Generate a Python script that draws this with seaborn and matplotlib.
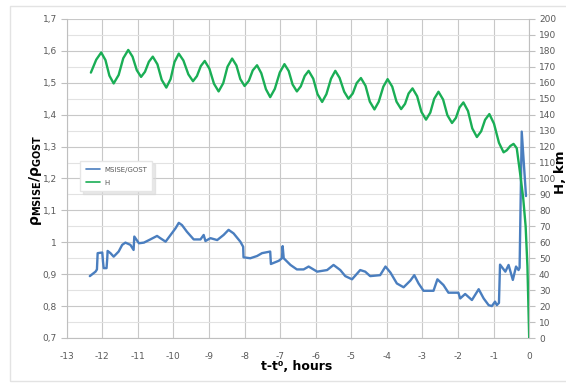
import numpy as np
import pandas as pd
import matplotlib
matplotlib.use("Agg")
import matplotlib.pyplot as plt
from matplotlib.lines import Line2D
from matplotlib.patches import Rectangle
import seaborn as sns

# ---------------- data ----------------
t_rho = [-12.35, -12.19, -12.15, -12.13, -12.00, -11.98, -11.96, -11.88, -11.86, -11.85,
         -11.77, -11.68, -11.54, -11.44, -11.35, -11.21, -11.12, -11.10, -10.97, -10.83,
         -10.65, -10.46, -10.37, -10.22, -10.08, -9.94, -9.85, -9.76, -9.62, -9.43,
         -9.24, -9.15, -9.10, -8.96, -8.77, -8.59, -8.45, -8.31, -8.12, -8.04,
         -8.03, -7.84, -7.65, -7.51, -7.28, -7.26, -7.04, -6.95, -6.93, -6.90,
         -6.71, -6.53, -6.34, -6.20, -5.96, -5.68, -5.50, -5.31, -5.17, -4.98,
         -4.75, -4.61, -4.47, -4.19, -4.04, -3.90, -3.72, -3.53, -3.34, -3.23,
         -3.11, -2.97, -2.69, -2.58, -2.41, -2.27, -1.99, -1.94, -1.80, -1.61,
         -1.42, -1.28, -1.14, -1.05, -0.96, -0.91, -0.85, -0.82, -0.67, -0.58,
         -0.46, -0.37, -0.30, -0.27, -0.21, -0.09]
rho_ratio = [0.894, 0.908, 0.915, 0.966, 0.968, 0.940, 0.919, 0.919, 0.950, 0.973,
             0.966, 0.955, 0.971, 0.992, 0.999, 0.992, 0.976, 1.018, 0.997, 0.999,
             1.009, 1.020, 1.013, 1.002, 1.023, 1.044, 1.061, 1.054, 1.033, 1.009,
             1.009, 1.023, 1.004, 1.013, 1.007, 1.023, 1.039, 1.028, 1.002, 0.986,
             0.953, 0.950, 0.957, 0.966, 0.971, 0.932, 0.942, 0.950, 0.988, 0.950,
             0.929, 0.915, 0.915, 0.924, 0.908, 0.913, 0.929, 0.913, 0.894, 0.884,
             0.913, 0.908, 0.894, 0.897, 0.924, 0.905, 0.871, 0.859, 0.880, 0.897,
             0.871, 0.848, 0.848, 0.884, 0.866, 0.842, 0.842, 0.824, 0.838, 0.819,
             0.853, 0.824, 0.803, 0.800, 0.814, 0.803, 0.810, 0.930, 0.908, 0.929,
             0.882, 0.924, 0.913, 0.920, 1.347, 1.145]

t_h = [-12.32, -12.17, -12.03, -11.91, -11.80, -11.68, -11.54, -11.41, -11.27, -11.15,
       -11.03, -10.91, -10.80, -10.69, -10.58, -10.45, -10.33, -10.20, -10.08, -9.97,
       -9.85, -9.72, -9.58, -9.45, -9.34, -9.23, -9.12, -8.99, -8.86, -8.73,
       -8.60, -8.48, -8.35, -8.23, -8.12, -8.00, -7.88, -7.77, -7.65, -7.53,
       -7.40, -7.28, -7.15, -7.01, -6.88, -6.76, -6.65, -6.53, -6.42, -6.31,
       -6.20, -6.07, -5.95, -5.82, -5.70, -5.57, -5.45, -5.33, -5.20, -5.08,
       -4.96, -4.85, -4.73, -4.60, -4.48, -4.35, -4.23, -4.10, -3.98, -3.85,
       -3.73, -3.60, -3.49, -3.39, -3.28, -3.15, -3.03, -2.90, -2.78, -2.67,
       -2.55, -2.42, -2.30, -2.17, -2.06, -1.96, -1.85, -1.72, -1.60, -1.47,
       -1.35, -1.24, -1.12, -0.99, -0.85, -0.72, -0.63, -0.53, -0.44, -0.35,
       -0.26, -0.17, -0.10, -0.05, 0.00]
h_km = [166.4, 174.5, 179.0, 174.2, 164.5, 159.6, 164.9, 175.4, 180.6, 176.4,
        167.9, 163.7, 166.9, 173.2, 176.4, 171.6, 161.9, 157.0, 162.3, 173.0,
        178.3, 174.0, 165.3, 161.0, 164.2, 170.5, 173.7, 168.9, 159.4, 154.6,
        159.8, 170.1, 175.2, 170.9, 162.3, 158.0, 161.3, 167.8, 171.0, 166.0,
        156.0, 151.0, 156.2, 166.5, 171.7, 167.4, 158.9, 154.6, 157.8, 164.3,
        167.5, 162.6, 152.9, 148.0, 152.9, 162.6, 167.5, 163.1, 154.4, 150.0,
        153.3, 159.8, 163.0, 158.1, 148.2, 143.3, 148.1, 157.6, 162.3, 157.6,
        148.2, 143.5, 146.8, 153.3, 156.5, 151.6, 141.8, 136.9, 141.3, 150.0,
        154.4, 149.5, 139.7, 134.8, 138.0, 144.5, 147.7, 142.3, 131.4, 126.0,
        129.6, 136.8, 140.4, 134.4, 122.4, 116.4, 117.7, 120.4, 121.7, 119.0,
        104.0, 88.0, 70.0, 45.0, 0.0]

x_ticks = list(range(-13, 1))
left_ticks = [0.7, 0.8, 0.9, 1.0, 1.1, 1.2, 1.3, 1.4, 1.5, 1.6, 1.7]
left_tick_labels = ["0,7", "0,8", "0,9", "1", "1,1", "1,2", "1,3", "1,4", "1,5", "1,6", "1,7"]
right_ticks = list(range(0, 201, 10))
series_names = ["MSISE/GOST", "H"]

BLUE = "#4a7ebf"
GREEN = "#1aae55"
GRID = "#c8c8c8"
GRID_MINOR = "#e2e2e2"
TICK_COLOR = "#595959"

# ---------------- figure ----------------
sns.set_theme(style="white")
plt.rcParams["font.family"] = ["DejaVu Sans"]

W, H = 566, 383
fig = plt.figure(figsize=(W / 100, H / 100), dpi=100)
fig.patches.append(Rectangle((10 / W, 1 - 381 / H), 600 / W, 375 / H,
                             transform=fig.transFigure, fill=False,
                             edgecolor="#e3e3e3", linewidth=1.0))

x0, x1 = 66.7, 529.2
y0, y1 = 19, 338
ax = fig.add_axes([x0 / W, 1 - y1 / H, (x1 - x0) / W, (y1 - y0) / H])
ax2 = ax.twinx()

df_rho = pd.DataFrame({"t": t_rho, "v": rho_ratio})
df_h = pd.DataFrame({"t": t_h, "h": h_km})

sns.lineplot(data=df_rho, x="t", y="v", ax=ax, color=BLUE, linewidth=1.7,
             sort=False, estimator=None, legend=False)
sns.lineplot(data=df_h, x="t", y="h", ax=ax2, color=GREEN, linewidth=1.7,
             sort=False, estimator=None, legend=False)

ax.set_xlim(-13, 0)
ax.set_ylim(0.7, 1.7)
ax2.set_ylim(0, 200)

ax.set_xticks(x_ticks)
ax.set_xticklabels([str(v) for v in x_ticks])
ax.set_yticks(left_ticks)
ax.set_yticklabels(left_tick_labels)
ax.set_yticks(np.arange(0.75, 1.7, 0.1), minor=True)
ax2.set_yticks(right_ticks)
ax2.set_yticklabels([str(v) for v in right_ticks])

ax.grid(True, which="major", axis="both", color=GRID, linewidth=0.8)
ax.grid(True, which="minor", axis="y", color=GRID_MINOR, linewidth=0.8)
ax.set_axisbelow(True)

for a in (ax, ax2):
    a.set_xlabel("")
    a.set_ylabel("")
    for s in a.spines.values():
        s.set_visible(False)
ax.spines["left"].set_visible(True)
ax.spines["bottom"].set_visible(True)
ax2.spines["right"].set_visible(True)
for s in (ax.spines["left"], ax.spines["bottom"], ax2.spines["right"]):
    s.set_color("#bfbfbf")
    s.set_linewidth(0.8)

ax.tick_params(axis="x", which="major", direction="out", length=4, width=0.8,
               color="#bfbfbf", labelsize=6.5, labelcolor=TICK_COLOR, pad=6)
ax.tick_params(axis="y", which="major", direction="out", length=4, width=0.8,
               color="#bfbfbf", labelsize=6.5, labelcolor=TICK_COLOR, pad=3,
               left=True)
ax.tick_params(axis="y", which="minor", length=0)
ax2.tick_params(axis="y", direction="out", length=4, width=0.8, color="#bfbfbf",
                labelsize=6.5, labelcolor=TICK_COLOR, pad=3, right=True)

# axis titles
fig.text(35 / W, 1 - 180 / H, r"$\mathbf{\rho_{MSISE}/\rho_{GOST}}$",
         rotation=90, ha="center", va="center", fontsize=10, color="black")
fig.text(561 / W, 1 - 172 / H, "H, km", rotation=90, ha="center", va="center",
         fontsize=9.5, fontweight="bold", color="black")
fig.text(297 / W, 1 - 367 / H, "t-t\u2070, hours", ha="center", va="center",
         fontsize=9, fontweight="bold", color="black")

handles = [Line2D([0], [0], color=BLUE, lw=1.2), Line2D([0], [0], color=GREEN, lw=1.2)]
leg = ax2.legend(handles=handles, labels=series_names, loc="upper left",
                 bbox_to_anchor=(0.022, 0.565), fontsize=5, frameon=True,
                 fancybox=False, edgecolor="#e6e6e6", framealpha=1,
                 handlelength=2.0, handletextpad=0.6, borderpad=0.8,
                 labelspacing=1.0,
                 shadow={"color": "#d9d9d9", "alpha": 0.6})
for txt in leg.get_texts():
    txt.set_color(TICK_COLOR)

fig.savefig("out.png", dpi=100)
